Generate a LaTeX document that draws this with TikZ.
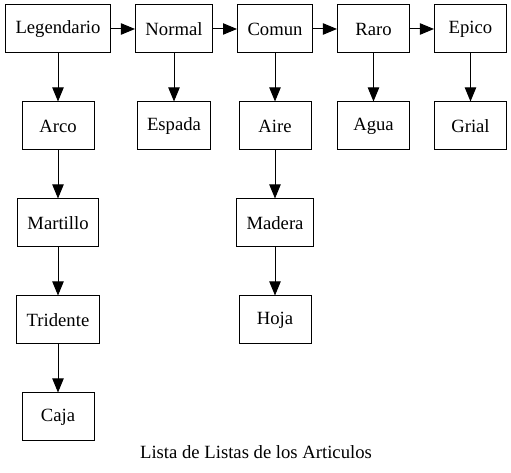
\documentclass[tikz,border=0pt]{standalone}
\usepackage{fontspec}
\setmainfont{Liberation Serif}
\usetikzlibrary{arrows.meta,positioning}

\begin{document}
\begin{tikzpicture}[
    x=0.75pt, y=-0.75pt,
    node distance=36pt and 18pt,
    item/.style={rectangle, draw, line width=0.75pt, minimum width=54pt, minimum height=36pt, inner xsep=7.5pt, font=\fontsize{14pt}{16pt}\selectfont},
    arrow/.style={-{Triangle[length=10.5pt,width=8.5pt]}, line width=0.75pt},
    caption/.style={font=\fontsize{14pt}{16pt}\selectfont}
]
\useasboundingbox (0,0) rectangle (511,473);

% Categorias
\node[item] (legendario) at (58,29) {Legendario};
\node[item, right=of legendario] (normal) {Normal};
\node[item, right=of normal] (comun) {Comun};
\node[item, right=of comun] (raro) {Raro};
\node[item, right=of raro] (epico) {Epico};

% Articulos
\node[item, below=of legendario] (arco) {Arco};
\node[item, below=of arco] (martillo) {Martillo};
\node[item, below=of martillo] (tridente) {Tridente};
\node[item, below=of tridente] (caja) {Caja};
\node[item, below=of normal] (espada) {Espada};
\node[item, below=of comun] (aire) {Aire};
\node[item, below=of aire] (madera) {Madera};
\node[item, below=of madera] (hoja) {Hoja};
\node[item, below=of raro] (agua) {Agua};
\node[item, below=of epico] (grial) {Grial};

\node[caption] (titulo) at (256,452) {Lista de Listas de los Articulos};

% Lista principal
\draw[arrow] (legendario) -- (normal);
\draw[arrow] (normal) -- (comun);
\draw[arrow] (comun) -- (raro);
\draw[arrow] (raro) -- (epico);

% Sublistas
\draw[arrow] (legendario) -- (arco);
\draw[arrow] (arco) -- (martillo);
\draw[arrow] (martillo) -- (tridente);
\draw[arrow] (tridente) -- (caja);
\draw[arrow] (normal) -- (espada);
\draw[arrow] (comun) -- (aire);
\draw[arrow] (aire) -- (madera);
\draw[arrow] (madera) -- (hoja);
\draw[arrow] (raro) -- (agua);
\draw[arrow] (epico) -- (grial);

\end{tikzpicture}
\end{document}
